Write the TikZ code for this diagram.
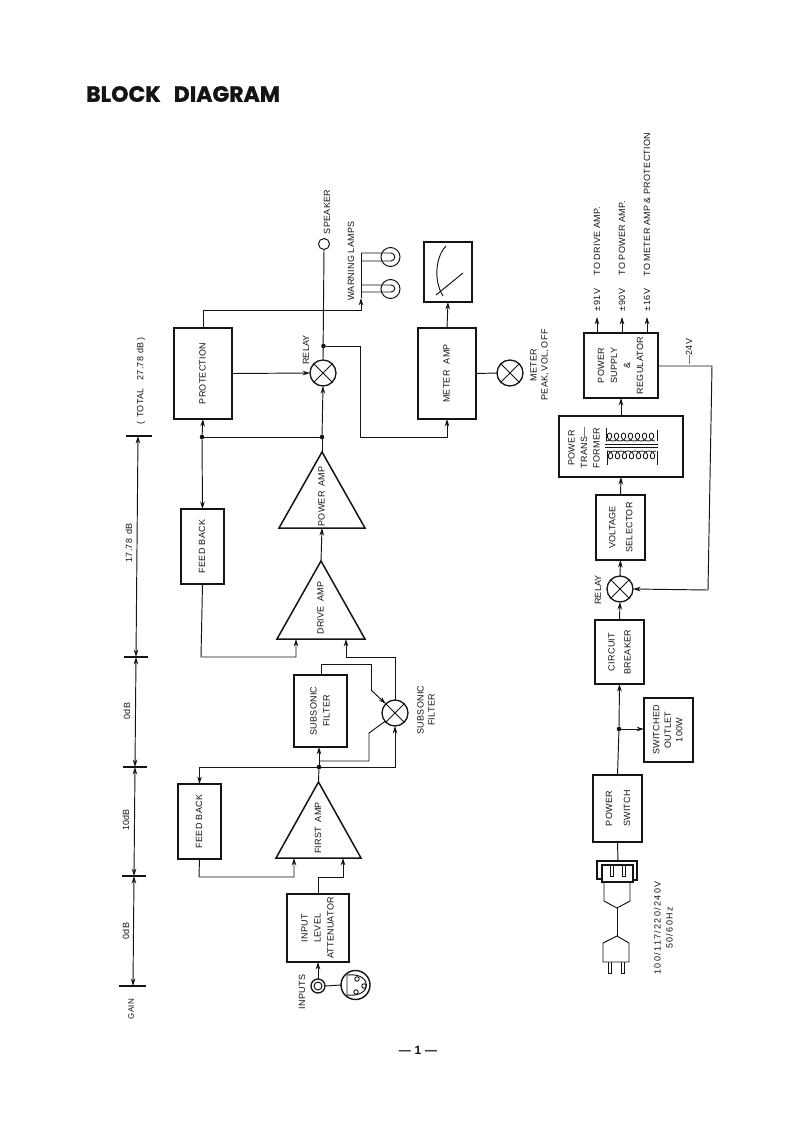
\documentclass[tikz,border=0pt]{standalone}
\usepackage{graphicx}
\usepackage{fontspec}
\setmainfont{Liberation Sans}[LetterSpace=3]
\newfontfamily\titlefont{Poppins}[BoldFeatures={FakeBold=1.2}]
\usetikzlibrary{arrows.meta,shapes.geometric}
\definecolor{ink}{HTML}{141414}
\newcommand{\vtext}[2][13]{\rotatebox{90}{\fontsize{9}{#1}\selectfont\begin{tabular}{@{}c@{}}#2\end{tabular}}}
\tikzset{
  every node/.style={text=ink},
  block/.style={draw=ink,line width=1.6pt,inner sep=0pt,outer sep=0pt,rectangle},
  amp/.style={draw=ink,line width=1.5pt,isosceles triangle,isosceles triangle stretches,shape border rotate=90,inner sep=0pt,outer sep=0pt,anchor=lower side},
  xcirc/.style={circle,draw=ink,line width=1.3pt,minimum size=26pt,inner sep=0pt,outer sep=0pt,path picture={\draw[ink,line width=1pt] (path picture bounding box.north west)--(path picture bounding box.south east) (path picture bounding box.north east)--(path picture bounding box.south west);}},
  wire/.style={draw=ink,line width=.95pt},
  arr/.style={wire,-{Stealth[length=7.5pt,width=4.6pt]}},
  barr/.style={wire,{Stealth[length=7.5pt,width=4.6pt]}-{Stealth[length=7.5pt,width=4.6pt]}},
  dot/.style={circle,fill=ink,minimum size=4.6pt,inner sep=0pt,outer sep=0pt},
  lbl/.style={rotate=90,font=\fontsize{9}{11}\selectfont,inner sep=0pt},
  ring/.style={circle,draw=ink,line width=1pt,inner sep=0pt,outer sep=0pt},
  tick/.style={draw=ink,line width=1.4pt},
  fine/.style={ink,line width=.95pt},
  coilline/.style={ink,line width=.8pt},
}
\begin{document}
\begin{tikzpicture}[x=1pt,y=-1pt]
\useasboundingbox (0,0) rectangle (793,1122);
\fill[white] (0,0) rectangle (793,1122);
\node[anchor=west,inner sep=0pt,font=\fontsize{22}{24}\titlefont\bfseries] (title) at (86,94) {BLOCK\hspace{.6em}DIAGRAM};
\node[inner sep=0pt,font=\fontsize{12}{14}\selectfont\bfseries] (pageno) at (418,1050) {--- 1 ---};
% gain ruler
\coordinate (g1) at (133,986);
\coordinate (g2) at (134,876);
\coordinate (g3) at (135,767);
\coordinate (g4) at (136,657);
\coordinate (g5) at (138,436);
\draw[tick] (119,986)--(146,986);
\draw[tick] (122,876)--(146,876);
\draw[tick] (123,767)--(147,767);
\draw[tick] (124,657)--(148,657);
\draw[tick] (126,436)--(152,436);
\draw[barr] (g1)--(g2);
\draw[barr] (g2)--(g3);
\draw[barr] (g3)--(g4);
\draw[barr] (g4)--(g5);
\node[lbl] (lgain) at (131,1009) {\fontsize{8}{10}\selectfont GAIN};
\node[lbl] (l0a) at (126,931) {0dB};
\node[lbl] (l10) at (126,820) {10dB};
\node[lbl] (l0b) at (127,711) {0dB};
\node[lbl] (l17) at (129,543) {17.78\hspace{.45em}dB};
\node[lbl] (ltot) at (141,381) {(\hspace{.4em}TOTAL\hspace{.9em}27.78\hspace{.35em}dB\hspace{.2em})};
% blocks, upper chain
\node[block,minimum width=62pt,minimum height=68pt] (att) at (318,928) {\vtext{INPUT\\LEVEL\\ATTENUATOR}};
\node[block,minimum width=43pt,minimum height=75pt] (fb1) at (199.5,821.5) {\vtext{FEED\hspace{.35em}BACK}};
\node[amp,minimum width=85pt,minimum height=76pt] (first) at (318.5,858) {\raisebox{-4pt}{\vtext{FIRST\hspace{.5em}AMP}}};
\node[block,minimum width=53pt,minimum height=72pt] (sub) at (320.5,711) {\vtext{SUBSONIC\\FILTER}};
\node[xcirc] (subx) at (395,713) {};
\node[amp,minimum width=88pt,minimum height=78pt] (drive) at (321,639) {\vtext{DRIVE\hspace{.5em}AMP}};
\node[amp,minimum width=86pt,minimum height=76pt] (power) at (322,528) {\vtext{POWER\hspace{.5em}AMP}};
\node[block,minimum width=43pt,minimum height=75pt] (fb2) at (202.5,546.5) {\vtext{FEED\hspace{.35em}BACK}};
\node[block,minimum width=58pt,minimum height=91pt] (prot) at (203,373.5) {\vtext{PROTECTION}};
\node[xcirc] (rel1) at (323,373) {};
\node[block,minimum width=58pt,minimum height=91pt] (mamp) at (447,373.5) {\vtext{METER\hspace{.7em}AMP}};
\node[block,minimum width=48pt,minimum height=60pt] (meter) at (448,272) {};
\node[xcirc] (mx) at (510,373) {};
\node[ring,minimum size=11pt] (spk) at (324,244) {};
\node[ring,minimum size=19pt] (lamp1) at (390.5,257) {};
\node[ring,minimum size=19pt] (lamp2) at (390.5,289) {};
\node[ring,minimum size=14pt,line width=1.3pt] (inp) at (318,986) {};
\node[ring,minimum size=8pt] (inpi) at (318,986) {};
\node[ring,minimum size=29pt,line width=1.4pt] (xlr) at (355.5,985) {};
% junctions
\node[dot] (j1) at (319,767) {};
\node[dot] (j2) at (322,437) {};
\node[dot] (j3) at (202,437) {};
\node[dot] (j4) at (323.5,346) {};
\coordinate (fain1) at (294,858);
\coordinate (fain2) at (343,858);
\coordinate (drin1) at (296,639);
\coordinate (drin2) at (346,639);
\coordinate (lampj) at (361,298);
% connectors
\draw[arr] (att.north) -- (318,877) -| (fain2);
\draw[arr] (fb1.south) -- (199,877) -| (fain1);
\draw[wire] (first.apex) -- (j1);
\draw[arr] (j1) -- (sub.south -| j1);
\draw[arr] (j1) -| (fb1.north);
\draw[arr] (j1) -| (subx.south);
\draw[wire] (319,761) -- (369,761) -- (369,733) -- (subx.220);
\draw[wire] (321,675) -- (321,664) -- (371,664) -- (371,690);
\draw[arr] (371,690) -- (subx.135);
\draw[arr] (subx.north) -- (395,657) -| (drin2);
\draw[arr] (fb2.south) -- (201,657) -| (drin1);
\draw[arr] (drive.apex) -- (power.lower side);
\draw[wire] (power.apex) -- (j2);
\draw[wire] (j2) -- (j3);
\draw[arr] (j3) -- (fb2.north);
\draw[arr] (j3) -- (prot.south);
\draw[arr] (j2) -- (rel1.south);
\draw[arr] (prot.east) -- (rel1.west);
\draw[wire] (rel1.north) -- (spk.south);
\draw[arr] (j4) -| (360,437) -| (mamp.south);
\draw[arr] (prot.north) -- (203,310) -| (lampj);
\draw[wire] (lampj) -- (361,253);
\draw[wire] (361,253) -- (391,253) .. controls (396,253) and (396,261) .. (391,261) -- (361,261);
\draw[wire] (361,285) -- (391,285) .. controls (396,285) and (396,292) .. (391,292) -- (361,292);
\draw[arr] (mamp.north) -- (meter.south);
\draw[wire] (mamp.east) -- (mx.west);
\draw[arr] (inp.north) -- (att.south);
\draw[wire] (inp.east) -- (xlr.west);
% meter face
\draw[fine] (446,246) .. controls (436,256) and (433,280) .. (443,296);
\draw[fine] (436,295) -- (463,273);
% xlr inside
\draw[fine] (347,975) .. controls (373,972) and (373,998) .. (347,995) -- cycle;
\node[ring,minimum size=4.5pt,line width=.9pt] (p1) at (357,979) {};
\node[ring,minimum size=4.5pt,line width=.9pt] (p2) at (364,986) {};
\node[ring,minimum size=4.5pt,line width=.9pt] (p3) at (356,992) {};
% labels upper
\node[lbl] (lsub) at (427,710) {\begin{tabular}{@{}c@{}}SUBSONIC\\FILTER\end{tabular}};
\node[lbl] (lrel) at (306,350) {RELAY};
\node[lbl] (lspk) at (327,212) {SPEAKER};
\node[lbl] (lwarn) at (351,261) {WARNING\hspace{.3em}LAMPS};
\node[lbl] (linp) at (302,992) {INPUTS};
\node[lbl] (lmeter) at (540,365) {\begin{tabular}{@{}c@{}}METER\\PEAK,\hspace{.2em}VOL,\hspace{.2em}OFF\end{tabular}};
% power chain
\node[block,minimum width=49pt,minimum height=67pt] (psw) at (617.5,808.5) {\vtext[18]{POWER\\SWITCH}};
\node[block,minimum width=49pt,minimum height=64pt] (out) at (668.5,730) {\vtext[11.5]{SWITCHED\\OUTLET\\100W}};
\node[block,minimum width=49pt,minimum height=64pt] (cb) at (619.5,652) {\vtext[16]{CIRCUIT\\BREAKER}};
\node[xcirc] (rel2) at (620,589) {};
\node[block,minimum width=49pt,minimum height=65pt] (vs) at (620.5,527.5) {\vtext[17]{VOLTAGE\\SELECTOR}};
\node[block,minimum width=124pt,minimum height=61pt] (tr) at (621,446.5) {};
\node[inner sep=0pt] (trl) at (584.5,448) {\vtext[12.5]{POWER\\TRANS---\\FORMER}};
\node[block,minimum width=74pt,minimum height=65pt] (ps) at (621,365.5) {\vtext[13]{POWER\\SUPPLY\\\&\\REGULATOR}};
\node[dot] (j5) at (619,729) {};
\coordinate (o1) at (597,317);
\coordinate (o2) at (622,317);
\coordinate (o3) at (647,317);
\draw[arr] (597,333) -- (o1);
\draw[arr] (622,333) -- (o2);
\draw[arr] (647,333) -- (o3);
\node[lbl,anchor=west] (v1) at (597,312) {±\hspace{.15em}91V\hspace{1.5em}TO\hspace{.3em}DRIVE\hspace{.3em}AMP.};
\node[lbl,anchor=west] (v2) at (622,312) {±\hspace{.15em}90V\hspace{1.5em}TO\hspace{.3em}POWER\hspace{.3em}AMP.};
\node[lbl,anchor=west] (v3) at (647,312) {±\hspace{.15em}16V\hspace{1.4em}TO\hspace{.3em}METER\hspace{.3em}AMP\hspace{.3em}\&\hspace{.3em}PROTECTION};
\node[lbl,anchor=west] (v4) at (689,365) {---24V};
\draw[wire] (psw.north) -- (j5);
\draw[arr] (j5) -- (cb.south);
\draw[arr] (j5) -- (out.west |- j5);
\draw[arr] (cb.north) -- (rel2.south);
\draw[arr] (rel2.north) -- (vs.south);
\draw[arr] (vs.north) -- (tr.south);
\draw[arr] (tr.north) -- (ps.south);
\draw[arr] (ps.east |- 0,366) -- (712,366) -- (708,590) -- (rel2.east);
\node[lbl] (lrel2) at (598,590) {RELAY};
% transformer symbol
\draw[fine] (606,428) -- (606,441);
\draw[fine] (657,430) -- (657,441);
\draw[fine] (607,465) -- (607,451);
\draw[fine] (657,465) -- (657,451);
\foreach \x in {606,613,620,627,634,641,648}{
  \draw[coilline] (\x,441) .. controls (\x+7,441) and (\x+7,433) .. (\x+3.5,433) .. controls (\x,433) and (\x,441) .. (\x+7,441);
}
\foreach \x in {607,614,621,628,635,642,649}{
  \draw[coilline] (\x,451) .. controls (\x+7,451) and (\x+7,459) .. (\x+3.5,459) .. controls (\x,459) and (\x,451) .. (\x+7,451);
}
\draw[fine] (605,444) -- (658,444) (605,447) -- (658,447);
% mains plug and socket
\coordinate (sock) at (618,861);
\draw[wire] (psw.south) -- (sock);
\draw[ink,line width=1.3pt] (602,879) -- (597,879) -- (597,861) -- (637,861) -- (637,880) -- (633,880);
\draw[ink,line width=1.1pt] (602,882) -- (602,865) -- (633,865) -- (633,882) -- cycle;
\draw[fine] (610,865) -- (610,876) -- (613,876) -- (613,865);
\draw[fine] (622,865) -- (622,876) -- (625,876) -- (625,865);
\draw[fine] (604,882) -- (604,901) -- (617,908) -- (630,901) -- (630,882);
\draw[wire] (617,908) -- (617,936);
\draw[fine] (617,936) -- (603,943) -- (603,962) -- (629,962) -- (629,943) -- cycle;
\draw[fine] (608,962) -- (608,973) -- (611,973) -- (611,962);
\draw[fine] (621,962) -- (621,973) -- (624,973) -- (624,962);
\node[lbl] (lmains) at (664.5,928) {\addfontfeatures{LetterSpace=15}\begin{tabular}{@{}c@{}}100/117/220/240V\\[1pt]50/60Hz\end{tabular}};
\end{tikzpicture}
\end{document}
